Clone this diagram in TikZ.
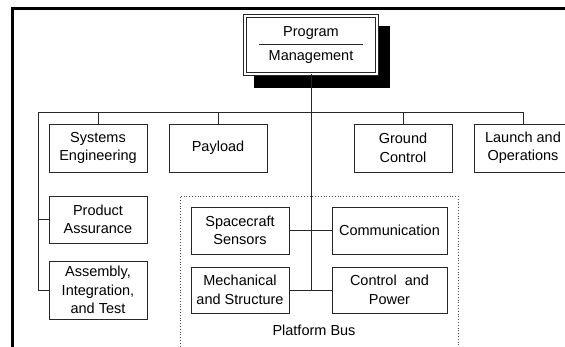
\documentclass[tikz,border=0pt]{standalone}
\usepackage{fontspec}
\setmainfont{Liberation Sans}
\usetikzlibrary{backgrounds}
\begin{document}
\begin{tikzpicture}[x=1pt,y=-1pt,
  font=\fontsize{14.5}{18.5}\selectfont,
  wire/.style={draw=black!85,line width=0.7pt},
  orgbox/.style={draw=black!85,line width=0.7pt,fill=white,align=center,inner sep=0pt,minimum width=98pt,minimum height=48pt},
  frameline/.style={line width=3pt,black},
  plain/.style={inner sep=0pt,align=center}]
\useasboundingbox (0,0) rectangle (565,347);
% outer frame
\draw[frameline] (12,350) -- (12,9) -- (566,9);
% program management
\node[draw=black!85,line width=0.7pt,double=white,double distance=2.6pt,fill=white,minimum width=132pt,minimum height=58pt,inner sep=0pt] (pm) at (311,45) {};
\begin{scope}[on background layer]
  \fill[black] ([shift={(9,10)}]pm.north west) rectangle ([shift={(13,14)}]pm.south east);
\end{scope}
\node[plain] (pmt) at (311,33) {Program};
\node[plain] (pmb) at (311,57) {Management};
\draw[wire] ([xshift=-52pt,yshift=1pt]pm.center) -- ([xshift=52pt,yshift=1pt]pm.center);
% top row
\node[orgbox] (se) at (98,148) {Systems\\Engineering};
\node[orgbox] (pl) at (218,148) {Payload};
\node[orgbox] (gc) at (403,148) {Ground\\Control};
\node[orgbox] (lo) at (523,148) {Launch and\\Operations};
% left column
\node[orgbox,minimum height=47pt] (pa) at (98,219.5) {Product\\Assurance};
\node[orgbox,minimum height=58pt] (ait) at (98,290) {Assembly,\\Integration,\\and Test};
% platform bus
\draw[black!70,dotted,line width=0.8pt] (180,352) -- (180,196) -- (458,196) -- (458,352);
\node[orgbox,minimum height=47pt] (ss) at (240,230.5) {Spacecraft\\Sensors};
\node[orgbox,minimum height=46pt] (ms) at (240,290) {Mechanical\\and Structure};
\node[orgbox,minimum width=115pt,minimum height=47pt] (cm) at (389.5,230.5) {Communication};
\node[orgbox,minimum width=115pt,minimum height=46pt] (cp) at (389.5,290) {Control~ and\\Power};
\node[plain] (pbus) at (314,330) {Platform Bus};
% bus
\coordinate (busL) at (38,112);
\coordinate (busR) at (523,112);
\draw[wire] (busL) -- (busR);
\draw[wire] (se.north) -- (se.north |- busL);
\draw[wire] (pl.north) -- (pl.north |- busL);
\draw[wire] (gc.north) -- (gc.north |- busL);
\draw[wire] (lo.north) -- (lo.north |- busL);
\draw[wire] (busL) |- (ait.west);
\draw[wire] (pa.west) -- (pa.west -| busL);
\draw[wire] (pm.south) -- (pm.south |- ms.east);
\draw[wire] (ss.east) -- (cm.west);
\draw[wire] (ms.east) -- (cp.west);
\end{tikzpicture}
\end{document}
